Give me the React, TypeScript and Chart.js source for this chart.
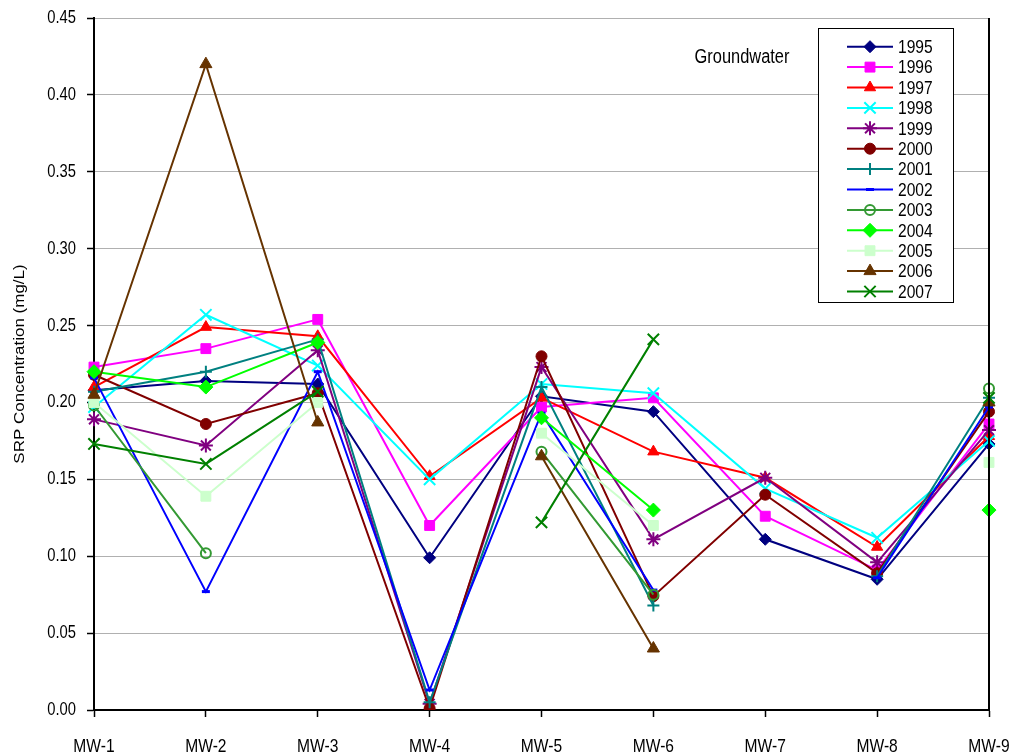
import React, { useEffect, useRef } from 'react';
import { Chart, registerables } from 'chart.js';
import { drawPoint } from 'chart.js/helpers';

Chart.register(...registerables);

const categories = ['MW-1', 'MW-2', 'MW-3', 'MW-4', 'MW-5', 'MW-6', 'MW-7', 'MW-8', 'MW-9'];
const years = ['1995', '1996', '1997', '1998', '1999', '2000', '2001', '2002', '2003', '2004', '2005', '2006', '2007'];

const s1995 = [0.208, 0.214, 0.212, 0.099, 0.204, 0.194, 0.111, 0.085, 0.173];
const s1996 = [0.223, 0.235, 0.254, 0.120, 0.197, 0.203, 0.126, 0.091, 0.186];
const s1997 = [0.210, 0.249, 0.243, 0.152, 0.203, 0.168, 0.151, 0.106, 0.178];
const s1998 = [0.197, 0.257, 0.224, 0.150, 0.212, 0.206, 0.144, 0.112, 0.175];
const s1999 = [0.189, 0.172, 0.234, 0.004, 0.223, 0.111, 0.151, 0.096, 0.182];
const s2000 = [0.218, 0.186, 0.206, 0.001, 0.230, 0.074, 0.140, 0.089, 0.194];
const s2001 = [0.207, 0.220, 0.241, 0.005, 0.210, 0.068, null, 0.087, 0.203];
const s2002 = [0.216, 0.077, 0.220, 0.013, 0.193, 0.078, null, 0.086, 0.197];
const s2003 = [0.198, 0.102, null, null, 0.168, 0.075, null, null, 0.209];
const s2004 = [0.220, 0.210, 0.239, null, 0.190, 0.130, null, null, 0.130];
const s2005 = [0.200, 0.139, 0.200, null, 0.180, 0.120, null, null, 0.161];
const s2006 = [0.205, 0.420, 0.187, null, 0.165, 0.040, null, null, 0.200];
const s2007 = [0.173, 0.160, 0.207, null, 0.122, 0.241, null, null, 0.203];

const seriesValues = [s1995, s1996, s1997, s1998, s1999, s2000, s2001, s2002, s2003, s2004, s2005, s2006, s2007];

const colors = ['#000080', '#FF00FF', '#FF0000', '#00FFFF', '#800080', '#800000', '#008080', '#0000FF', '#339933', '#00FF00', '#CCFFCC', '#663300', '#008000'];
const pointStyles = ['rectRot', 'rect', 'triangle', 'crossRot', 'star', 'circle', 'cross', 'line', 'circle', 'rectRot', 'rect', 'triangle', 'crossRot'];
const pointRadii = [6, 7, 6.5, 8, 7, 5.5, 6, 4, 5, 7, 7, 7, 8];
const hollow = [false, false, false, false, false, false, false, false, true, false, false, false, false];

const yMin = 0;
const yMax = 0.45;
const yStep = 0.05;
const yTitle = 'SRP Concentration (mg/L)';
const annotationText = 'Groundwater';

const FONT = "'Liberation Sans', Arial, sans-serif";
const SQUEEZE = 0.82;

function patchContext(ctx: CanvasRenderingContext2D) {
  const anyCtx = ctx as any;
  if (anyCtx.__squeezed) return;
  anyCtx.__squeezed = true;
  const orig = ctx.fillText.bind(ctx);
  anyCtx.fillText = (text: string, x: number, y: number, maxWidth?: number) => {
    const m = ctx.getTransform();
    const px = m.a * x + m.c * y + m.e;
    const py = m.b * x + m.d * y + m.f;
    ctx.save();
    const t = new DOMMatrix().translate(px, py).scale(SQUEEZE, 1).translate(-px, -py).multiply(m);
    ctx.setTransform(t);
    if (maxWidth === undefined) orig(text, x, y);
    else orig(text, x, y, maxWidth);
    ctx.restore();
  };
}

function markerBorder(i: number) {
  if (pointStyles[i] === 'line') return 3;
  if (['cross', 'crossRot', 'star'].includes(pointStyles[i]) || hollow[i]) return 2;
  return 1;
}

const overlayPlugin = {
  id: 'overlay',
  afterDraw(chart: any) {
    const ctx = chart.ctx as CanvasRenderingContext2D;
    const area = chart.chartArea;
    ctx.save();
    ctx.strokeStyle = '#000';
    ctx.lineWidth = 2;
    ctx.beginPath();
    ctx.moveTo(area.right, area.top);
    ctx.lineTo(area.right, area.bottom);
    ctx.stroke();

    ctx.fillStyle = '#000';
    ctx.font = `20px ${FONT}`;
    ctx.textAlign = 'center';
    ctx.textBaseline = 'middle';
    ctx.fillText(annotationText, 742, 57);

    const bx = 818, by = 28, bw = 135, bh = 274;
    ctx.fillStyle = '#fff';
    ctx.fillRect(bx, by, bw, bh);
    ctx.strokeStyle = '#000';
    ctx.lineWidth = 1;
    ctx.strokeRect(bx + 0.5, by + 0.5, bw, bh);

    const step = 20.4;
    years.forEach((yr, i) => {
      const cy = 46.7 + i * step;
      ctx.strokeStyle = colors[i];
      ctx.lineWidth = 2;
      ctx.beginPath();
      ctx.moveTo(847, cy);
      ctx.lineTo(893, cy);
      ctx.stroke();
      ctx.fillStyle = hollow[i] ? 'rgba(0,0,0,0)' : colors[i];
      ctx.strokeStyle = colors[i];
      const bwid = markerBorder(i);
      ctx.lineWidth = bwid;
      drawPoint(ctx, { pointStyle: pointStyles[i] as any, rotation: 0, radius: pointRadii[i], borderWidth: bwid }, 870, cy);
      ctx.fillStyle = '#000';
      ctx.font = `19px ${FONT}`;
      ctx.textAlign = 'left';
      ctx.textBaseline = 'middle';
      ctx.fillText(yr, 898, cy + 1);
    });
    ctx.restore();
  },
};

export default function App() {
  const canvasRef = useRef<HTMLCanvasElement | null>(null);

  useEffect(() => {
    document.body.style.margin = '0';
    const canvas = canvasRef.current!;
    const ctx = canvas.getContext('2d')!;
    patchContext(ctx);

    const datasets = years.map((yr, i) => ({
      label: yr,
      data: seriesValues[i],
      borderColor: colors[i],
      backgroundColor: colors[i],
      borderWidth: 2,
      pointStyle: pointStyles[i] as any,
      pointRadius: pointRadii[i],
      pointHoverRadius: pointRadii[i],
      pointBackgroundColor: hollow[i] ? 'rgba(0,0,0,0)' : colors[i],
      pointBorderColor: colors[i],
      pointBorderWidth: markerBorder(i),
      spanGaps: false,
      tension: 0,
      fill: false,
      order: years.length - i,
    }));

    const chart = new Chart(ctx, {
      type: 'line',
      data: { labels: categories, datasets },
      plugins: [overlayPlugin],
      options: {
        animation: false,
        responsive: false,
        layout: { padding: { left: 0, top: 18, right: 29, bottom: 0 } },
        plugins: {
          legend: { display: false },
          tooltip: { enabled: false },
        },
        scales: {
          x: {
            type: 'category',
            offset: false,
            afterFit: (scale: any) => {
              scale.height = 45;
              scale.paddingLeft = 0;
              scale.paddingRight = 0;
            },
            grid: {
              drawOnChartArea: false,
              drawTicks: true,
              tickLength: 7,
              tickColor: '#000',
              tickWidth: 1.5,
            },
            border: { display: true, color: '#000', width: 2 },
            ticks: {
              color: '#000',
              font: { family: FONT, size: 19 },
              padding: 18,
              maxRotation: 0,
              autoSkip: false,
            },
          },
          y: {
            min: yMin,
            max: yMax,
            afterFit: (scale: any) => {
              scale.width = 94;
              scale.paddingTop = 0;
              scale.paddingBottom = 0;
            },
            grid: {
              color: '#b0b0b0',
              lineWidth: 1,
              drawTicks: true,
              tickLength: 7,
              tickColor: '#000',
              tickWidth: 1.5,
            },
            border: { display: true, color: '#000', width: 2 },
            ticks: {
              stepSize: yStep,
              color: '#000',
              font: { family: FONT, size: 18 },
              padding: 11,
              callback: (v: any) => Number(v).toFixed(2),
            },
            title: {
              display: true,
              text: yTitle,
              color: '#000',
              font: { family: FONT, size: 17 },
              padding: { top: 10, bottom: 0 },
            },
          },
        },
      },
    });
    return () => chart.destroy();
  }, []);

  return (
    <div style={{ position: 'relative', width: 1018, height: 755 }}>
      <canvas ref={canvasRef} width={1018} height={755} style={{ display: 'block', width: 1018, height: 755 }} />
    </div>
  );
}
